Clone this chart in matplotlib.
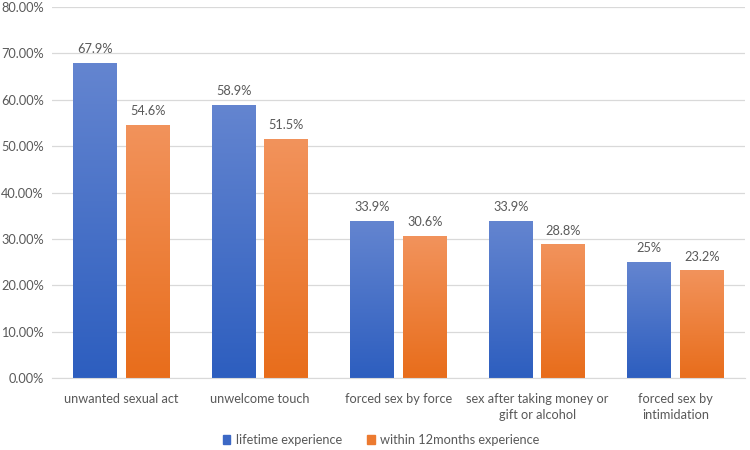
import matplotlib
matplotlib.use("Agg")
import matplotlib.pyplot as plt
import numpy as np
from matplotlib.colors import LinearSegmentedColormap
from matplotlib.patches import Patch

categories = ["unwanted sexual act", "unwelcome touch", "forced sex by force",
              "sex after taking money or\ngift or alcohol", "forced sex by\nintimidation"]
lifetime = [67.9, 58.9, 33.9, 33.9, 25.0]
within12 = [54.6, 51.5, 30.6, 28.8, 23.2]
life_labels = ["67.9%", "58.9%", "33.9%", "33.9%", "25%"]
within_labels = ["54.6%", "51.5%", "30.6%", "28.8%", "23.2%"]
series_names = ["lifetime experience", "within 12months experience"]

plt.rcParams['font.family'] = ['Lato', 'DejaVu Sans']
txt = '#595959'
fs = 9.2

fig = plt.figure(figsize=(7.5, 4.5), dpi=100)
ax = fig.add_axes([52/750, 1-378/450, (745-52)/750, (378-7)/450])

x = np.arange(len(categories))
w = 0.317
off = 0.19

blue_cmap = LinearSegmentedColormap.from_list('b', ['#2d5ebf', '#6485d0'])
orange_cmap = LinearSegmentedColormap.from_list('o', ['#e86d1b', '#f2935c'])

def grad_bars(xs, vals, cmap):
    bars = ax.bar(xs, vals, w, color='none', edgecolor='none', zorder=2)
    for b in bars:
        x0 = b.get_x()
        h = b.get_height()
        grad = np.linspace(0, 1, 256).reshape(-1, 1)
        im = ax.imshow(grad, extent=[x0, x0 + b.get_width(), 0, h], origin='lower',
                       cmap=cmap, aspect='auto', zorder=2, vmin=0, vmax=1)
        im.set_clip_path(b)
    return bars

grad_bars(x - off, lifetime, blue_cmap)
grad_bars(x + off, within12, orange_cmap)

for i in range(len(categories)):
    ax.text(x[i] - off, lifetime[i] + 1.7, life_labels[i], ha='center', va='bottom',
            fontsize=fs, color=txt)
    ax.text(x[i] + off, within12[i] + 1.7, within_labels[i], ha='center', va='bottom',
            fontsize=fs, color=txt)

ax.set_xlim(-0.5, len(categories) - 0.5)
ax.set_ylim(0, 80)
ax.set_yticks(np.arange(0, 81, 10))
ax.set_yticklabels([f"{v:.2f}%" for v in np.arange(0, 81, 10)])
ax.yaxis.grid(True, color='#d9d9d9', linewidth=0.9, zorder=0)
ax.set_axisbelow(True)
ax.set_xticks(x)
ax.set_xticklabels(categories, linespacing=1.35)
ax.tick_params(axis='both', length=0, colors=txt, labelsize=fs)
ax.tick_params(axis='x', pad=11)
ax.tick_params(axis='y', pad=6)
for s in ['top', 'right', 'left']:
    ax.spines[s].set_visible(False)
ax.spines['bottom'].set_color('#d9d9d9')

handles = [Patch(color='#3c68c5'), Patch(color='#ec7a30')]
fig.legend(handles, series_names, loc='center', bbox_to_anchor=(381/750, 1-440/450),
           ncol=2, frameon=False, fontsize=fs, labelcolor=txt,
           handlelength=0.6, handleheight=0.6, handletextpad=0.4, columnspacing=2.0)

fig.savefig('out.png', dpi=100)
